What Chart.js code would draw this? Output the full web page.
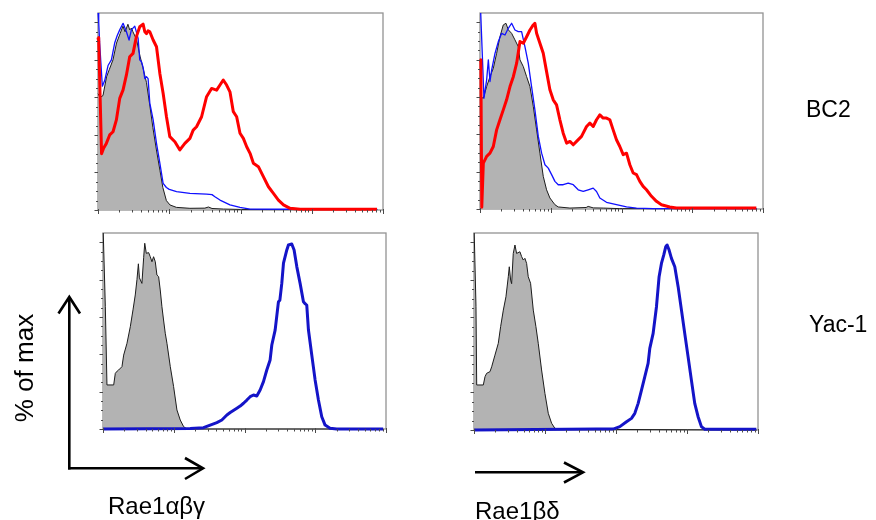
<!DOCTYPE html>
<html>
<head>
<meta charset="utf-8">
<script src="https://cdn.jsdelivr.net/npm/chart.js@4.4.1/dist/chart.umd.min.js"></script>
<style>
  html, body { margin: 0; padding: 0; background: #fff; }
  #wrap { position: relative; width: 876px; height: 520px; overflow: hidden; background: #fff; font-family: 'Liberation Sans', Arial, sans-serif; color: #000; }
  canvas { position: absolute; }
  .lbl { position: absolute; white-space: nowrap; line-height: 1; }
  svg { position: absolute; left: 0; top: 0; }
</style>
</head>
<body>
<div id="wrap">
  <canvas id="c1"></canvas>
  <canvas id="c2"></canvas>
  <canvas id="c3"></canvas>
  <canvas id="c4"></canvas>
  <svg width="876" height="520">
    <g fill="none" stroke="#000" stroke-width="2.6" stroke-linecap="butt" stroke-linejoin="miter">
      <line x1="69.3" y1="469.5" x2="69.3" y2="297"/>
      <polyline points="58.5,313.5 69.3,297 80,313.5"/>
      <line x1="68" y1="468.3" x2="203" y2="468.3"/>
      <polyline points="185,458 203,468.3 185,479"/>
      <line x1="475" y1="472.3" x2="583" y2="472.3"/>
      <polyline points="564,462.5 583,472.3 564,482.5"/>
    </g>
  </svg>
  <div class="lbl" id="tBC2" style="left:806px; top:98px; font-size:23px;">BC2</div>
  <div class="lbl" id="tYac" style="left:809px; top:313px; font-size:23px;">Yac-1</div>
  <div class="lbl" id="tY" style="left:24px; top:368px; font-size:26px; transform: translate(-50%,-50%) rotate(-90deg);">% of max</div>
  <div class="lbl" id="tX1" style="left:108px; top:494px; font-size:24px;">Rae1αβγ</div>
  <div class="lbl" id="tX2" style="left:475px; top:499px; font-size:24px;">Rae1βδ</div>
</div>
<script>
// x values: log10 fluorescence, in decades above the axis minimum (0..4); y values: % of max
const xDecades = [0, 1, 2, 3, 4];
const xMinorMultipliers = [2, 3, 4, 5, 6, 7, 8, 9];
const yMajorTicks = [0, 20, 40, 60, 80, 100];
const yMinorStep = 5;
const yMax = 105;

// BC2 / Rae1αβγ
const bc2AbgIsotype = [[0.00,62],[0.03,60],[0.07,61],[0.12,71],[0.16,75],[0.21,80],[0.26,89],[0.31,94],[0.35,98],[0.38,95],[0.42,99],[0.445,96],[0.47,97],[0.49,95],[0.54,91],[0.59,82],[0.63,76],[0.68,68],[0.73,55],[0.77,44],[0.82,32],[0.87,21],[0.91,12],[0.96,5],[1.01,2.7],[1.10,1.4],[1.29,0.9],[1.50,1.0],[1.55,1.6],[1.60,0.8],[1.76,0.5],[2.0,0.3],[2.6,0.2],[3.92,0.2]];
const bc2AbgStain1 = [[0.00,106],[0.01,100],[0.023,89],[0.061,66],[0.094,69],[0.141,77],[0.188,80],[0.234,89],[0.27,93],[0.305,96],[0.352,99.5],[0.399,95],[0.436,90.6],[0.469,96],[0.516,98],[0.563,91.5],[0.586,80],[0.61,79],[0.633,76],[0.657,70],[0.68,71],[0.703,70],[0.727,57],[0.774,48],[0.821,35.5],[0.868,25],[0.914,14.2],[0.96,12],[1.00,11],[1.102,9.8],[1.290,8.9],[1.524,8.5],[1.60,8.2],[1.641,7.1],[1.712,5.3],[1.852,2.7],[1.993,1.4],[2.134,0.5],[2.70,0.4],[3.92,0.3]];
const bc2AbgStain2 = [[0.00,92],[0.01,90],[0.05,30],[0.08,33],[0.117,35.5],[0.164,40],[0.211,41.7],[0.258,48],[0.305,59.5],[0.352,64],[0.399,72],[0.445,81.7],[0.492,83.5],[0.539,92.4],[0.586,97.7],[0.633,99.1],[0.657,95],[0.680,94],[0.703,95.5],[0.727,95],[0.774,90.6],[0.821,87],[0.868,72.8],[0.914,62.2],[0.961,49.7],[1.008,39.1],[1.079,36.4],[1.149,32],[1.219,35.5],[1.290,38.2],[1.336,42.6],[1.383,44.4],[1.454,49.7],[1.524,60.4],[1.594,64.8],[1.665,63.9],[1.712,66.6],[1.758,69.3],[1.805,66.6],[1.852,63],[1.899,52.4],[1.946,49.7],[1.993,40.9],[2.040,38.2],[2.087,33.7],[2.134,30.2],[2.181,24.9],[2.251,23.1],[2.321,17.8],[2.392,12.4],[2.462,8.9],[2.532,5.3],[2.603,2.7],[2.696,0.9],[2.837,0.4],[3.916,0.4]];

// BC2 / Rae1βδ
const bc2BdIsotype = [[0.00,60],[0.047,59.4],[0.094,65.6],[0.141,70.9],[0.188,75.4],[0.235,83.4],[0.282,92.3],[0.329,98.6],[0.367,99.5],[0.40,96],[0.447,94.1],[0.494,90.6],[0.541,87.0],[0.565,79.9],[0.612,76.3],[0.659,70.9],[0.706,65.6],[0.753,55],[0.80,42.4],[0.847,29.9],[0.894,17.5],[0.941,10.3],[0.988,5.9],[1.059,2.3],[1.106,1.1],[1.271,0.5],[1.50,0.8],[1.529,1.4],[1.60,0.6],[1.741,0.5],[1.976,0.2],[3.91,0.2]];
const bc2BdStain1 = [[0.00,110],[0.01,105],[0.056,59.4],[0.094,69.2],[0.118,79.9],[0.141,68.3],[0.165,74.5],[0.212,83.4],[0.259,89.7],[0.306,94.1],[0.353,93.2],[0.40,96.8],[0.447,99.5],[0.494,95.9],[0.541,95.0],[0.588,95.0],[0.635,87.0],[0.682,78.1],[0.729,65.6],[0.776,53.1],[0.824,38.9],[0.871,29.9],[0.918,23.7],[0.965,21.9],[1.012,18.4],[1.059,14.8],[1.106,13.0],[1.176,13.0],[1.247,13.9],[1.318,13.0],[1.388,10.3],[1.459,9.4],[1.529,10.3],[1.60,11.2],[1.647,9.4],[1.694,5.9],[1.788,3.6],[1.929,2.3],[2.071,1.1],[2.212,0.5],[2.447,0.2],[3.91,0.2]];
const bc2BdStain2 = [[0.00,80],[0.012,79],[0.025,1],[0.047,24.6],[0.094,28.2],[0.141,29.9],[0.188,33.5],[0.235,42.4],[0.282,47.8],[0.329,53.1],[0.376,58.5],[0.424,65.6],[0.471,70.9],[0.518,78.1],[0.565,89.7],[0.612,88.8],[0.659,92.3],[0.706,95.9],[0.753,98.6],[0.776,99.5],[0.80,94.1],[0.847,88.8],[0.894,83.4],[0.941,73.6],[0.988,63.9],[1.035,58.5],[1.082,55.8],[1.129,47.8],[1.176,40.6],[1.224,35.3],[1.271,36.2],[1.318,34.4],[1.365,36.2],[1.435,38.9],[1.506,44.2],[1.553,46.0],[1.60,44.2],[1.647,47.8],[1.694,50.4],[1.741,48.7],[1.788,48.7],[1.835,47.8],[1.882,42.4],[1.929,37.1],[1.976,33.5],[2.024,29.1],[2.071,29.9],[2.118,23.7],[2.165,19.3],[2.212,18.4],[2.259,14.8],[2.306,12.1],[2.353,10.3],[2.424,6.8],[2.494,4.1],[2.565,2.3],[2.682,1.1],[2.776,0.5],[3.906,0.5]];

// Yac-1 / Rae1αβγ
const yacAbgIsotype = [[0.00,110],[0.012,110],[0.033,65.5],[0.056,23.6],[0.151,23.6],[0.174,29.8],[0.20,31],[0.221,31.6],[0.268,33.4],[0.292,39.6],[0.339,45.9],[0.386,54.8],[0.424,63.8],[0.456,71.8],[0.48,80],[0.50,88.5],[0.515,81],[0.55,78],[0.575,92],[0.59,99.5],[0.612,94.1],[0.645,94.5],[0.668,92.3],[0.692,89.6],[0.715,92.3],[0.739,89.6],[0.762,82.5],[0.786,81.6],[0.809,74.5],[0.833,65.5],[0.856,58.4],[0.88,51.3],[0.904,45.9],[0.951,33.4],[0.998,22.7],[1.045,10.2],[1.092,4.8],[1.139,1.3],[1.186,0],[3.96,0]];
const yacAbgStain = [[0.00,0],[1.233,0.3],[1.421,0.7],[1.515,2.1],[1.609,3.4],[1.68,4.8],[1.751,7.5],[1.798,8.8],[1.892,11.1],[1.939,12.3],[1.986,13.8],[2.033,15.5],[2.08,17.3],[2.127,18.2],[2.174,17.7],[2.221,20.9],[2.268,25.4],[2.315,31.6],[2.362,37.0],[2.386,45.0],[2.433,53.0],[2.48,68.2],[2.50,69],[2.527,78.0],[2.551,88.8],[2.598,95.9],[2.621,98.6],[2.668,99.1],[2.701,95.9],[2.739,87.0],[2.786,78.0],[2.833,68.2],[2.86,67],[2.88,66.4],[2.904,53.0],[2.951,39.6],[2.998,26.3],[3.045,15.5],[3.092,6.6],[3.139,2.1],[3.209,0.4],[3.304,0],[3.96,0]];

// Yac-1 / Rae1βδ
const yacBdIsotype = [[0.00,110],[0.014,110],[0.028,65.7],[0.038,24.0],[0.131,24.0],[0.155,28.4],[0.178,30.2],[0.225,31.1],[0.249,33.7],[0.295,39.9],[0.342,46.2],[0.375,55.1],[0.413,63.9],[0.45,71.0],[0.483,81.7],[0.497,87.0],[0.516,79.9],[0.53,78],[0.553,94.1],[0.577,98.6],[0.6,94.1],[0.647,95.0],[0.671,92.4],[0.694,90.6],[0.717,91.5],[0.741,88.8],[0.764,81.7],[0.797,78.2],[0.835,63.9],[0.872,55.1],[0.905,46.2],[0.952,32.0],[0.999,19.5],[1.046,8.9],[1.093,3.6],[1.139,0.9],[1.21,0.4],[3.98,0]];
const yacBdStain = [[0.00,0],[1.726,0.5],[1.96,0.5],[2.054,1.8],[2.148,4.4],[2.218,6.2],[2.265,8.9],[2.312,14.2],[2.359,21.3],[2.406,28.4],[2.452,35.5],[2.476,43.5],[2.523,51.5],[2.57,65.7],[2.607,81.7],[2.64,88.8],[2.673,93.3],[2.701,97.7],[2.72,98.6],[2.748,95.9],[2.781,91.5],[2.828,87.0],[2.875,76.4],[2.922,63.9],[2.968,51.5],[3.015,39.1],[3.062,26.6],[3.109,14.2],[3.156,7.1],[3.203,1.8],[3.25,0.4],[3.977,0.4]];

const PAD = {left: 8, top: 2, right: 4, bottom: 8};

const framePlugin = {
  id: 'facsFrame',
  beforeDatasetsDraw(chart) {
    const {ctx, chartArea: a} = chart;
    ctx.save();
    ctx.strokeStyle = '#939393';
    ctx.lineWidth = 1.3;
    ctx.strokeRect(a.left, a.top, a.right - a.left, a.bottom - a.top);
    ctx.restore();
  },
  afterDatasetsDraw(chart) {
    const {ctx, chartArea: a, scales} = chart;
    const xs = scales.x, ys = scales.y;
    ctx.save();
    ctx.strokeStyle = '#4a4a4a';
    ctx.lineWidth = 1;
    ctx.beginPath();
    xDecades.forEach((d, i) => {
      const px = Math.round(xs.getPixelForValue(d)) + 0.5;
      ctx.moveTo(px, a.bottom - 1); ctx.lineTo(px, a.bottom + 4);
      if (i < xDecades.length - 1) {
        xMinorMultipliers.forEach(m => {
          const mx = Math.round(xs.getPixelForValue(d + Math.log10(m))) + 0.5;
          ctx.moveTo(mx, a.bottom); ctx.lineTo(mx, a.bottom + 2.5);
        });
      }
    });
    yMajorTicks.forEach(v => {
      const py = Math.round(ys.getPixelForValue(v)) + 0.5;
      ctx.moveTo(a.left - 3.5, py); ctx.lineTo(a.left, py);
    });
    for (let v = 0; v <= 100; v += yMinorStep) {
      if (v % 20 === 0) continue;
      const py = Math.round(ys.getPixelForValue(v)) + 0.5;
      ctx.moveTo(a.left - 2, py); ctx.lineTo(a.left, py);
    }
    ctx.stroke();
    ctx.restore();
  }
};

function pts(arr) { return arr.map(([x, y]) => ({x, y})); }

function makePanel(id, box, iso, stains) {
  const cv = document.getElementById(id);
  const w = box.w + PAD.left + PAD.right, h = box.h + PAD.top + PAD.bottom;
  cv.width = w; cv.height = h;
  cv.style.width = w + 'px'; cv.style.height = h + 'px';
  cv.style.left = (box.x - PAD.left) + 'px';
  cv.style.top = (box.y - PAD.top) + 'px';
  const datasets = [{
    data: pts(iso), borderColor: '#1c1c1c', borderWidth: 1,
    backgroundColor: 'rgb(179,179,179)', fill: 'origin', pointRadius: 0,
    tension: 0, order: 3, clip: {left: 2, top: 0, right: 0, bottom: 2}
  }];
  stains.forEach(s => datasets.push({
    data: pts(s.data), borderColor: s.color, borderWidth: s.width, fill: false,
    pointRadius: 0, tension: 0, order: s.order, borderJoinStyle: 'round',
    clip: {left: 2, top: 0, right: 0, bottom: 3}
  }));
  return new Chart(cv, {
    type: 'line',
    data: { datasets },
    options: {
      responsive: false, animation: false, devicePixelRatio: 1,
      layout: { padding: PAD },
      plugins: { legend: { display: false }, tooltip: { enabled: false } },
      scales: {
        x: { type: 'linear', min: 0, max: 4, display: false },
        y: { type: 'linear', min: 0, max: yMax, display: false }
      }
    },
    plugins: [framePlugin]
  });
}

makePanel('c1', {x: 98, y: 13, w: 285, h: 197}, bc2AbgIsotype, [
  {data: bc2AbgStain1, color: '#1010ff', width: 1.3, order: 2},
  {data: bc2AbgStain2, color: '#ff0000', width: 3, order: 1}
]);
makePanel('c2', {x: 480, y: 13, w: 283, h: 196}, bc2BdIsotype, [
  {data: bc2BdStain1, color: '#1010ff', width: 1.3, order: 2},
  {data: bc2BdStain2, color: '#ff0000', width: 3, order: 1}
]);
makePanel('c3', {x: 103, y: 233, w: 283, h: 196}, yacAbgIsotype, [
  {data: yacAbgStain, color: '#1414c8', width: 3, order: 1}
]);
makePanel('c4', {x: 474, y: 233, w: 284, h: 197}, yacBdIsotype, [
  {data: yacBdStain, color: '#1414c8', width: 3, order: 1}
]);
</script>
</body>
</html>
